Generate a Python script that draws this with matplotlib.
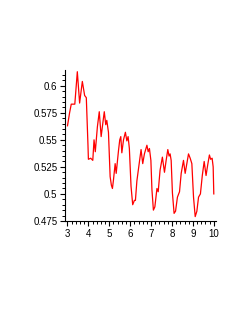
import matplotlib.pyplot as plt
from matplotlib.ticker import MultipleLocator

plt.rcParams['font.family'] = ['Liberation Sans', 'DejaVu Sans']

# values
t = [3.0, 3.1, 3.18, 3.3, 3.35, 3.47, 3.58, 3.71, 3.82, 3.9, 3.98, 4.0, 4.11, 4.21,
     4.27, 4.33, 4.43, 4.52, 4.61, 4.72, 4.76, 4.83, 4.88, 4.96, 5.04, 5.1, 5.15,
     5.2, 5.28, 5.33, 5.44, 5.5, 5.55, 5.6, 5.68, 5.77, 5.84, 5.9, 5.96, 6.04,
     6.12, 6.2, 6.25, 6.32, 6.43, 6.52, 6.6, 6.68, 6.8, 6.86, 6.92, 6.99, 7.04,
     7.11, 7.18, 7.28, 7.34, 7.43, 7.54, 7.64, 7.72, 7.8, 7.86, 7.91, 7.96, 8.02,
     8.1, 8.17, 8.26, 8.36, 8.44, 8.55, 8.63, 8.71, 8.79, 8.87, 8.95, 9.03, 9.11,
     9.19, 9.27, 9.36, 9.45, 9.54, 9.63, 9.71, 9.79, 9.85, 9.92, 9.97, 10.0]
val = [0.563, 0.575, 0.583, 0.583, 0.583, 0.613, 0.584, 0.604, 0.591, 0.589, 0.545,
       0.532, 0.533, 0.531, 0.550, 0.539, 0.562, 0.576, 0.553, 0.570, 0.576, 0.564,
       0.568, 0.557, 0.516, 0.508, 0.505, 0.513, 0.528, 0.519, 0.540, 0.550, 0.553,
       0.538, 0.550, 0.557, 0.549, 0.553, 0.542, 0.507, 0.490, 0.494, 0.494, 0.512,
       0.528, 0.541, 0.528, 0.537, 0.545, 0.539, 0.542, 0.531, 0.504, 0.485, 0.488,
       0.505, 0.502, 0.522, 0.534, 0.520, 0.531, 0.541, 0.535, 0.537, 0.531, 0.501,
       0.482, 0.484, 0.497, 0.502, 0.519, 0.531, 0.519, 0.528, 0.537, 0.533, 0.528,
       0.497, 0.479, 0.484, 0.497, 0.500, 0.517, 0.530, 0.517, 0.527, 0.536, 0.532,
       0.533, 0.525, 0.500]

fig = plt.figure(figsize=(2.49, 3.23), dpi=100)
ax = fig.add_axes([0.261, 0.316, 0.606, 0.467])
ax.plot(t, val, color='red', linewidth=0.9)

ax.set_xlim(2.88, 10.1)
ax.set_ylim(0.475, 0.6145)
ax.xaxis.set_major_locator(MultipleLocator(1))
ax.xaxis.set_minor_locator(MultipleLocator(0.2))
ax.yaxis.set_major_locator(MultipleLocator(0.025))
ax.yaxis.set_minor_locator(MultipleLocator(0.005))
ax.set_yticks([0.475, 0.5, 0.525, 0.55, 0.575, 0.6])
ax.set_yticklabels(['0.475', '0.5', '0.525', '0.55', '0.575', '0.6'])

for s in ['top', 'right']:
    ax.spines[s].set_visible(False)
for s in ['left', 'bottom']:
    ax.spines[s].set_linewidth(0.8)
ax.tick_params(which='major', length=3.5, width=0.8, labelsize=7, pad=2)
ax.tick_params(which='minor', length=2.5, width=0.7)

plt.savefig('out.png', dpi=100)
